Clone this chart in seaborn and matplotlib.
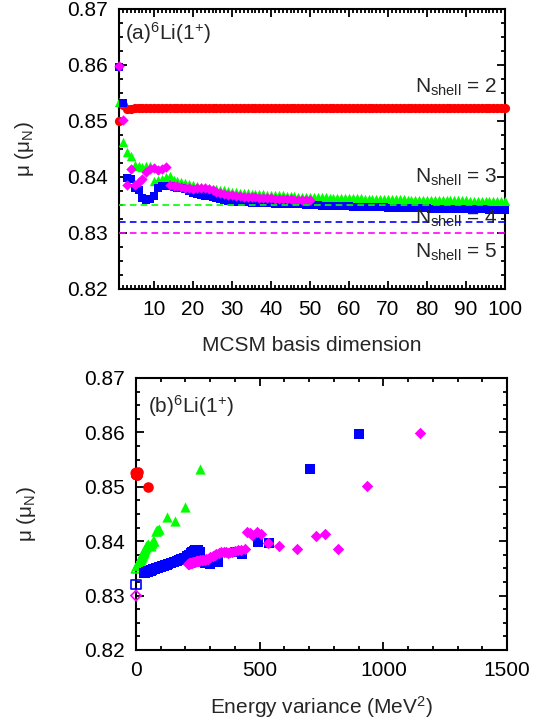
import numpy as np
import pandas as pd
import matplotlib.pyplot as plt
from matplotlib.ticker import MultipleLocator
import seaborn as sns

sns.set_style("ticks")
plt.rcParams['font.family'] = ['Liberation Sans', 'DejaVu Sans']
plt.rcParams['mathtext.default'] = 'regular'
plt.rcParams['font.size'] = 15

# MCSM basis dimension
dim = np.arange(1, 101)

# N_shell = 2 (red circles)
red_mu = [0.8500, 0.8528, 0.8521, 0.8522, 0.8523, 0.8524, 0.8524, 0.8524, 0.8524, 0.8524,
          0.8524, 0.8524, 0.8524, 0.8524, 0.8524, 0.8524, 0.8524, 0.8524, 0.8524, 0.8524,
          0.8524, 0.8524, 0.8524, 0.8524, 0.8524, 0.8524, 0.8524, 0.8524, 0.8524, 0.8524,
          0.8524, 0.8524, 0.8524, 0.8524, 0.8524, 0.8524, 0.8524, 0.8524, 0.8524, 0.8524,
          0.8524, 0.8524, 0.8524, 0.8524, 0.8524, 0.8524, 0.8524, 0.8524, 0.8524, 0.8524,
          0.8524, 0.8524, 0.8524, 0.8524, 0.8524, 0.8524, 0.8524, 0.8524, 0.8524, 0.8524,
          0.8524, 0.8524, 0.8524, 0.8524, 0.8524, 0.8524, 0.8524, 0.8524, 0.8524, 0.8524,
          0.8524, 0.8524, 0.8524, 0.8524, 0.8524, 0.8524, 0.8524, 0.8524, 0.8524, 0.8524,
          0.8524, 0.8524, 0.8524, 0.8524, 0.8524, 0.8524, 0.8524, 0.8524, 0.8524, 0.8524,
          0.8524, 0.8524, 0.8524, 0.8524, 0.8524, 0.8524, 0.8524, 0.8524, 0.8524, 0.8524]
red_var = [50.0, 8.0, 6.0, 5.0, 4.5, 4.0, 3.8, 3.6, 3.4, 3.2,
           3.0, 2.9, 2.8, 2.7, 2.6, 2.5, 2.4, 2.3, 2.2, 2.1,
           2.0, 2.0, 1.9, 1.9, 1.8, 1.8, 1.7, 1.7, 1.6, 1.6,
           1.5, 1.5, 1.5, 1.4, 1.4, 1.4, 1.3, 1.3, 1.3, 1.2,
           1.2, 1.2, 1.2, 1.1, 1.1, 1.1, 1.1, 1.0, 1.0, 1.0,
           1.0, 1.0, 0.9, 0.9, 0.9, 0.9, 0.9, 0.9, 0.8, 0.8,
           0.8, 0.8, 0.8, 0.8, 0.8, 0.7, 0.7, 0.7, 0.7, 0.7,
           0.7, 0.7, 0.7, 0.6, 0.6, 0.6, 0.6, 0.6, 0.6, 0.6,
           0.6, 0.6, 0.6, 0.6, 0.5, 0.5, 0.5, 0.5, 0.5, 0.5,
           0.5, 0.5, 0.5, 0.5, 0.5, 0.5, 0.5, 0.5, 0.5, 0.5]

# N_shell = 3 (green triangles)
green_mu = [0.8533, 0.8462, 0.8445, 0.8438, 0.8422, 0.8420, 0.8418, 0.8420, 0.8419, 0.8392,
            0.8394, 0.8396, 0.8400, 0.8401, 0.8395, 0.8393, 0.8391, 0.8389, 0.8387, 0.8385,
            0.8384, 0.8382, 0.8381, 0.8380, 0.8379, 0.8378, 0.8377, 0.8376, 0.8375, 0.8374,
            0.8373, 0.8372, 0.8372, 0.8371, 0.8370, 0.8370, 0.8369, 0.8369, 0.8368, 0.8368,
            0.8367, 0.8367, 0.8367, 0.8366, 0.8366, 0.8366, 0.8365, 0.8365, 0.8365, 0.8365,
            0.8364, 0.8364, 0.8364, 0.8364, 0.8363, 0.8363, 0.8363, 0.8363, 0.8362, 0.8362,
            0.8362, 0.8362, 0.8362, 0.8361, 0.8361, 0.8361, 0.8361, 0.8361, 0.8360, 0.8360,
            0.8360, 0.8360, 0.8360, 0.8360, 0.8359, 0.8359, 0.8359, 0.8359, 0.8359, 0.8359,
            0.8359, 0.8358, 0.8358, 0.8358, 0.8358, 0.8358, 0.8358, 0.8358, 0.8358, 0.8358,
            0.8357, 0.8357, 0.8357, 0.8357, 0.8357, 0.8357, 0.8357, 0.8357, 0.8357, 0.8357]
green_var = [259, 200, 124, 159, 92, 85, 80, 88, 79, 60,
             62, 66, 72, 70, 48, 44, 42, 39, 37, 35,
             34, 32, 31, 30, 29, 28, 27, 26, 25, 24,
             23, 22, 22, 21, 20, 20, 19, 19, 18, 18,
             17, 17, 17, 16, 16, 16, 15, 15, 15, 15,
             14, 14, 14, 14, 13, 13, 13, 13, 12, 12,
             12, 12, 12, 11, 11, 11, 11, 11, 10, 10,
             10, 10, 10, 10, 9, 9, 9, 9, 9, 9,
             9, 8, 8, 8, 8, 8, 8, 8, 8, 8,
             7, 7, 7, 7, 7, 7, 7, 7, 7, 7]

# N_shell = 4 (blue squares)
blue_mu = [0.8597, 0.8532, 0.8399, 0.8396, 0.8380, 0.8376, 0.8362, 0.8358, 0.8360, 0.8366,
           0.8380, 0.8383, 0.8384, 0.8383, 0.8382, 0.8381, 0.8380, 0.8378, 0.8375, 0.8372,
           0.8369, 0.8367, 0.8366, 0.8366, 0.8364, 0.8362, 0.8360, 0.8358, 0.8357, 0.8356,
           0.8356, 0.8355, 0.8355, 0.8355, 0.8354, 0.8354, 0.8354, 0.8353, 0.8353, 0.8353,
           0.8352, 0.8352, 0.8352, 0.8352, 0.8351, 0.8351, 0.8351, 0.8351, 0.8350, 0.8350,
           0.8350, 0.8350, 0.8349, 0.8349, 0.8349, 0.8349, 0.8348, 0.8348, 0.8348, 0.8348,
           0.8347, 0.8347, 0.8347, 0.8347, 0.8346, 0.8346, 0.8346, 0.8346, 0.8346, 0.8345,
           0.8345, 0.8345, 0.8345, 0.8345, 0.8344, 0.8344, 0.8344, 0.8344, 0.8344, 0.8344,
           0.8343, 0.8343, 0.8343, 0.8343, 0.8343, 0.8343, 0.8343, 0.8342, 0.8342, 0.8342,
           0.8342, 0.8342, 0.8342, 0.8342, 0.8342, 0.8341, 0.8341, 0.8341, 0.8341, 0.8341]
blue_var = [900, 703, 492, 539, 400, 430, 330, 300, 280, 264,
            258, 250, 245, 240, 236, 232, 228, 222, 215, 208,
            193, 182, 176, 172, 165, 154, 142, 131, 125, 120,
            118, 114, 112, 110, 107, 105, 104, 100, 99, 98,
            95, 94, 93, 92, 89, 88, 87, 86, 83, 82,
            81, 80, 77, 76, 75, 74, 71, 70, 69, 68,
            65, 64, 63, 62, 59, 58, 57, 56, 55, 53,
            52, 51, 50, 49, 47, 46, 45, 45, 44, 44,
            42, 42, 41, 41, 41, 40, 40, 38, 38, 38,
            37, 37, 37, 36, 36, 35, 35, 35, 34, 34]

# N_shell = 5 (magenta diamonds), first 50 dimensions only
magenta_mu = [0.8598, 0.8501, 0.8386, 0.8414, 0.8386, 0.8391, 0.8396, 0.8409, 0.8414, 0.8416,
              0.8412, 0.8415, 0.8417, 0.8385, 0.8384, 0.8383, 0.8382, 0.8381, 0.8380, 0.8379,
              0.8380, 0.8381, 0.8380, 0.8378, 0.8376, 0.8374, 0.8372, 0.8370, 0.8368, 0.8367,
              0.8366, 0.8366, 0.8365, 0.8365, 0.8364, 0.8364, 0.8363, 0.8363, 0.8362, 0.8362,
              0.8361, 0.8361, 0.8360, 0.8360, 0.8360, 0.8359, 0.8359, 0.8359, 0.8358, 0.8358]
magenta_var = [1148, 935, 816, 763, 649, 579, 532, 728, 505, 490,
               470, 459, 450, 439, 425, 412, 400, 390, 380, 372,
               365, 355, 345, 335, 325, 318, 310, 300, 292, 285,
               278, 272, 266, 260, 255, 250, 246, 242, 238, 235,
               232, 229, 226, 223, 221, 219, 217, 215, 213, 212]

# extrapolated values (zero energy variance)
ext_shell = [2, 3, 4, 5]
ext_mu = [0.8525, 0.835, 0.832, 0.830]

colors = {2: "#ff0000", 3: "#00ff00", 4: "#0000ff", 5: "#ff00ff"}
markers = {2: "o", 3: "^", 4: "s", 5: "D"}
sizes_top = {2: 44, 3: 46, 4: 40, 5: 28}
sizes_bot = {2: 58, 3: 54, 4: 58, 5: 34}

series = [
    (2, red_mu, red_var),
    (3, green_mu, green_var),
    (4, blue_mu, blue_var),
    (5, magenta_mu, magenta_var),
]

fig = plt.figure(figsize=(5.53, 7.23), dpi=100)
ax1 = fig.add_axes([0.2152, 0.6003, 0.698, 0.3873])
ax2 = fig.add_axes([0.2459, 0.1010, 0.6709, 0.3762])

# open markers for the extrapolated values
for n, m in zip(ext_shell, ext_mu):
    sns.scatterplot(x=[0], y=[m], ax=ax2, marker=markers[n], s=sizes_bot[n] * 0.8,
                    color=colors[n], facecolor="none", edgecolor=colors[n],
                    linewidth=1.2, clip_on=False, zorder=3)

for n, mu, var in series:
    df = pd.DataFrame({"dim": dim[:len(mu)], "mu": mu, "var": var})
    sns.scatterplot(data=df, x="dim", y="mu", ax=ax1, marker=markers[n],
                    s=sizes_top[n], color=colors[n], linewidth=0, clip_on=False, zorder=3)
    sns.scatterplot(data=df, x="var", y="mu", ax=ax2, marker=markers[n],
                    s=sizes_bot[n], color=colors[n], linewidth=0, clip_on=False, zorder=4)

# extrapolated values as dashed lines in (a)
for n, m in zip(ext_shell[1:], ext_mu[1:]):
    ax1.axhline(m, color=colors[n], ls=(0, (4, 2.5)), lw=1.2, zorder=5)

for n, yb in zip([2, 3, 4, 5], [0.8551, 0.8390, 0.8316, 0.8255]):
    ax1.text(98, yb, r"N$_{shell}$ = %d" % n, ha="right", va="baseline", fontsize=15, zorder=6)

ax1.text(0.016, 0.889, r"(a)$^{6}$Li(1$^{+}$)", transform=ax1.transAxes, fontsize=15)
ax2.text(0.032, 0.871, r"(b)$^{6}$Li(1$^{+}$)", transform=ax2.transAxes, fontsize=15)

ax1.set_xlim(1, 100)
ax1.set_ylim(0.82, 0.87)
ax1.xaxis.set_major_locator(MultipleLocator(10))
ax1.xaxis.set_minor_locator(MultipleLocator(1))
ax2.set_xlim(0, 1500)
ax2.set_ylim(0.82, 0.87)
ax2.xaxis.set_major_locator(MultipleLocator(500))
ax2.xaxis.set_minor_locator(MultipleLocator(100))

for ax in (ax1, ax2):
    ax.yaxis.set_major_locator(MultipleLocator(0.01))
    ax.yaxis.set_minor_locator(MultipleLocator(0.0025))
    ax.tick_params(which="both", direction="in", top=True, right=True,
                   width=1.3, color="black", labelcolor="black", labelsize=15)
    ax.tick_params(which="major", length=6)
    ax.tick_params(which="minor", length=3)
    ax.tick_params(axis="x", pad=8)
    ax.tick_params(axis="y", pad=8)
    for sp in ax.spines.values():
        sp.set_linewidth(1.5)
        sp.set_color("black")
    ax.set_ylabel(r"μ (μ$_N$)", fontsize=15)

ax1.set_xlabel("MCSM basis dimension", fontsize=15)
ax2.set_xlabel(r"Energy variance (MeV$^2$)", fontsize=15)
ax1.yaxis.set_label_coords(-0.215, 0.5)
ax2.yaxis.set_label_coords(-0.264, 0.5)
ax1.xaxis.set_label_coords(0.5, -0.168)
ax2.xaxis.set_label_coords(0.5, -0.162)

fig.savefig("out.png", dpi=100)
